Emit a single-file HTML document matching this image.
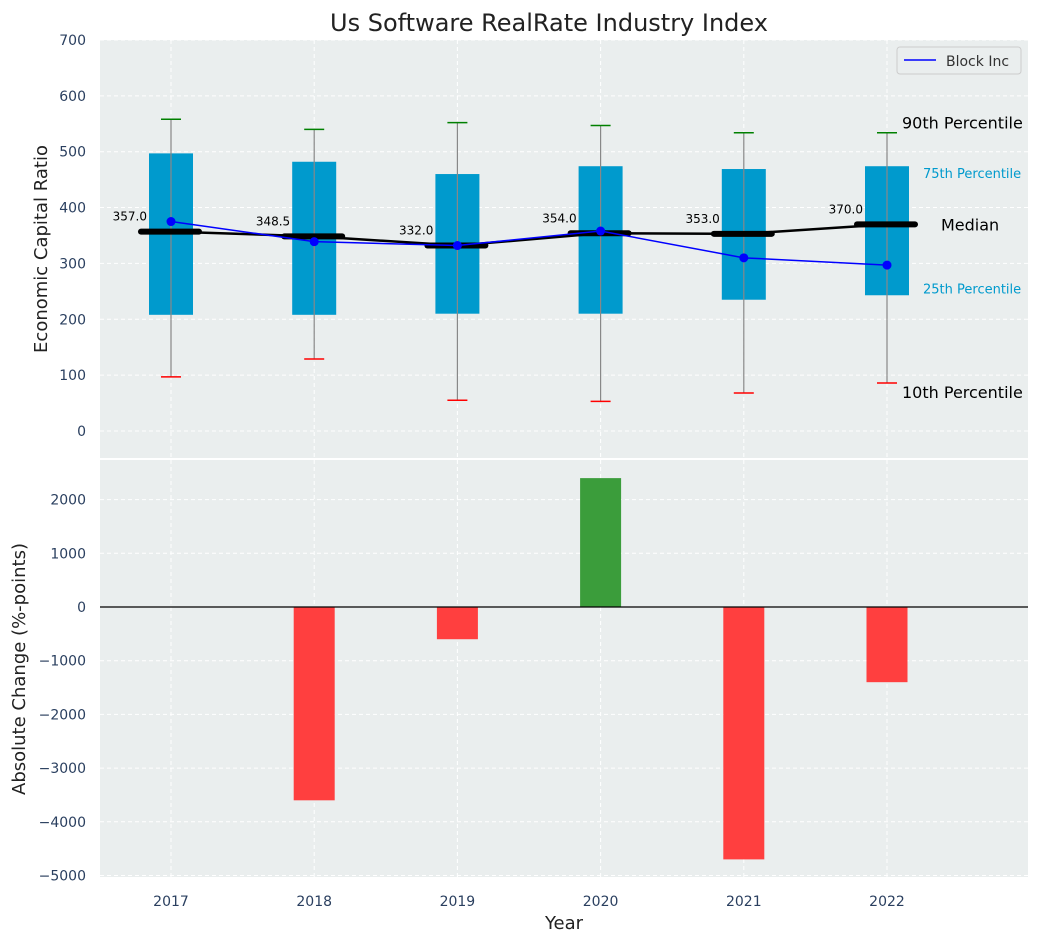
<!DOCTYPE html>
<html><head><meta charset="utf-8"><style>
body{margin:0;background:#fff;}
svg text{font-family:"DejaVu Sans","Liberation Sans",sans-serif;}
</style></head><body>
<svg id="c" width="1039" height="942" xmlns="http://www.w3.org/2000/svg"></svg>
<script>
const years=[2017,2018,2019,2020,2021,2022];
const p10=[97,129,55,53,68,86];
const q1=[208,208,210,210,235,243];
const med=[357,348.5,332,354,353,370];
const q3=[497,482,460,474,469,474];
const p90=[558,540,552,547,534,534];
const block=[375,339,332,358,310,297];
const changes=[0,-3600,-600,2400,-4700,-1400];
const topTicks=[0,100,200,300,400,500,600,700];
const botTicks=[-5000,-4000,-3000,-2000,-1000,0,1000,2000];

const NS="http://www.w3.org/2000/svg";
const svg=document.getElementById('c');
function el(t,a,txt){const e=document.createElementNS(NS,t);for(const k in a)e.setAttribute(k,a[k]);if(txt!==undefined)e.textContent=txt;svg.appendChild(e);return e;}
const L=100,R=1028;
const x=v=>171+(v-2017)*143.2;
const yT=v=>431-v*0.5586;
const yB=v=>607-v*0.0537;
const tc='#2a3f5f';

let e;
e=el('rect',{x:L,y:40,width:R-L,height:418,fill:'#eaeeee'});

e=el('rect',{x:L,y:460,width:R-L,height:417,fill:'#eaeeee'});

years.forEach(yr=>{
 el('line',{x1:x(yr),x2:x(yr),y1:40,y2:458,stroke:'#fff','stroke-dasharray':'4,3'});
 el('line',{x1:x(yr),x2:x(yr),y1:460,y2:877,stroke:'#fff','stroke-dasharray':'4,3'});
 e=el('text',{x:x(yr),y:906,'font-size':14,fill:tc,'text-anchor':'middle'},yr);
 
});
topTicks.forEach(t=>{
 el('line',{x1:L,x2:R,y1:yT(t),y2:yT(t),stroke:'#fff','stroke-dasharray':'4,3'});
 e=el('text',{x:86,y:yT(t)+5,'font-size':14,fill:tc,'text-anchor':'end'},t);
 
});
botTicks.forEach(t=>{
 el('line',{x1:L,x2:R,y1:yB(t),y2:yB(t),stroke:'#fff','stroke-dasharray':'4,3'});
 e=el('text',{x:86,y:yB(t)+5,'font-size':14,fill:tc,'text-anchor':'end'},t.toString().replace('-','\u2212'));
 
});
years.forEach((yr,i)=>{
 const cx=x(yr);
 e=el('rect',{x:cx-22,y:yT(q3[i]),width:44,height:yT(q1[i])-yT(q3[i]),fill:'#009acd'});
 
 e=el('line',{x1:cx,x2:cx,y1:yT(p10[i]),y2:yT(p90[i]),stroke:'#888','stroke-width':1.2});
 
 e=el('line',{x1:cx-10,x2:cx+10,y1:yT(p10[i]),y2:yT(p10[i]),stroke:'red','stroke-width':1.5});
 
 e=el('line',{x1:cx-10,x2:cx+10,y1:yT(p90[i]),y2:yT(p90[i]),stroke:'green','stroke-width':1.5});
 
 e=el('line',{x1:cx-30,x2:cx+28,y1:yT(med[i]),y2:yT(med[i]),stroke:'#000','stroke-width':6,'stroke-linecap':'round'});
 
 e=el('text',{x:cx-24,y:yT(med[i])-11,'font-size':12,fill:'#000','text-anchor':'end'},med[i].toFixed(1));
 
});
e=el('polyline',{points:years.map((yr,i)=>x(yr)+','+yT(med[i])).join(' '),fill:'none',stroke:'#000','stroke-width':2.5});

e=el('polyline',{points:years.map((yr,i)=>x(yr)+','+yT(block[i])).join(' '),fill:'none',stroke:'blue','stroke-width':1.5});

years.forEach((yr,i)=>{e=el('circle',{cx:x(yr),cy:yT(block[i]),r:4.5,fill:'blue'});
 });
const ax=x(2022);
[['90th Percentile',ax+15,yT(p90[5])-4,16,'#000'],['75th Percentile',ax+36,yT(q3[5])+12,13,'#009acd'],
 ['Median',ax+54,yT(med[5])+6,16,'#000'],['25th Percentile',ax+36,yT(q1[5])-2,13,'#009acd'],
 ['10th Percentile',ax+15,yT(p10[5])+15,16,'#000']].forEach(a=>{
 e=el('text',{x:a[1],y:a[2],'font-size':a[3],fill:a[4]},a[0]);
 });
e=el('rect',{x:897,y:47,width:124,height:27,fill:'#eaeeee',stroke:'#ccc',rx:3});

el('line',{x1:904,x2:936,y1:60,y2:60,stroke:'blue','stroke-width':1.5});
e=el('text',{x:946,y:66,'font-size':14,fill:'#333'},'Block Inc');

years.forEach((yr,i)=>{const v=changes[i];
 e=el('rect',{x:x(yr)-20.5,y:Math.min(yB(v),yB(0)),width:41,height:Math.abs(yB(v)-yB(0)),fill:v>=0?'#3b9d3b':'#ff3f3f'});
 });
el('line',{x1:L,x2:R,y1:yB(0),y2:yB(0),stroke:'#000','stroke-width':1.2});
e=el('text',{x:549,y:31,'font-size':24,fill:'#222','text-anchor':'middle'},'Us Software RealRate Industry Index');

e=el('text',{x:47,y:249,'font-size':18,fill:'#222','text-anchor':'middle',transform:'rotate(-90 47 249)'},'Economic Capital Ratio');

e=el('text',{x:25,y:669,'font-size':18,fill:'#222','text-anchor':'middle',transform:'rotate(-90 25 669)'},'Absolute Change (%-points)');

e=el('text',{x:564,y:929,'font-size':18,fill:'#222','text-anchor':'middle'},'Year');

</script>
</body></html>
